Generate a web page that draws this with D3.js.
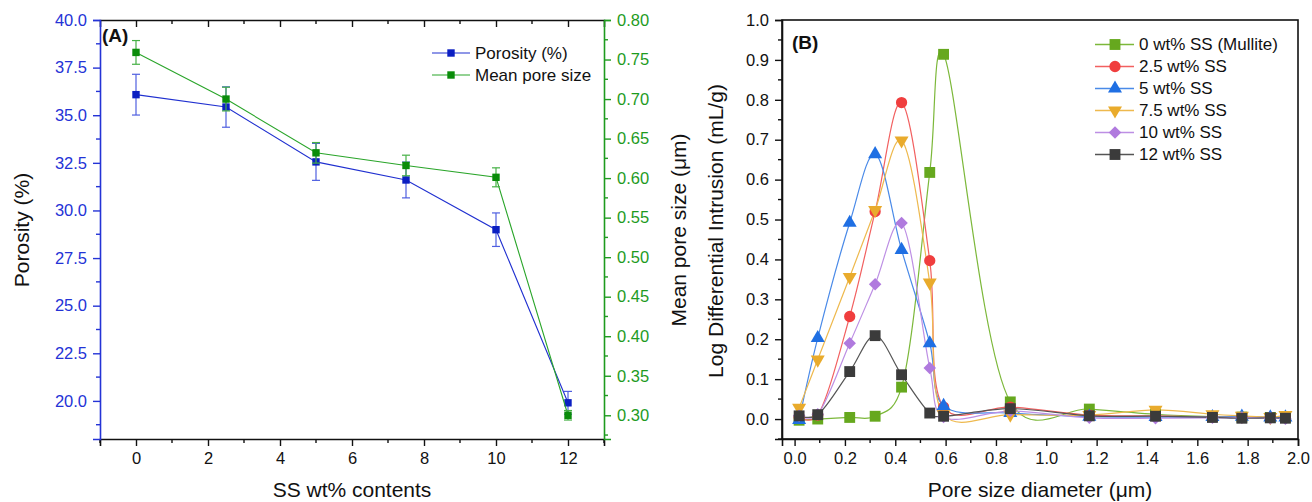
<!DOCTYPE html>
<html><head><meta charset="utf-8">
<script src="https://cdn.jsdelivr.net/npm/d3@7"></script>
<style>
body{margin:0;background:#fff;}
text{font-family:"Liberation Sans",Arial,sans-serif;}
</style></head>
<body><svg id="chart" width="1312" height="502"></svg>
<script>
// ---------- Panel A data ----------
const ssContent = [0, 2.5, 5, 7.5, 10, 12];
const porosity = [36.08, 35.43, 32.55, 31.6, 28.99, 19.9];
const porosityErr = [1.07, 1.06, 0.97, 0.94, 0.88, 0.6];
const meanPore = [0.759, 0.700, 0.632, 0.616, 0.601, 0.300];
const meanPoreErr = [0.015, 0.015, 0.013, 0.013, 0.012, 0.006];
const porosityTicks = [20, 22.5, 25, 27.5, 30, 32.5, 35, 37.5, 40];
const meanPoreTicks = [0.30, 0.35, 0.40, 0.45, 0.50, 0.55, 0.60, 0.65, 0.70, 0.75, 0.80];
const ssTicks = [0, 2, 4, 6, 8, 10, 12];

// ---------- Panel B data ----------
const poreDiameter = [0.018, 0.092, 0.219, 0.32, 0.425, 0.537, 0.592, 0.857, 1.171, 1.434, 1.66, 1.777, 1.89, 1.95];
const seriesNames = ["0 wt% SS (Mullite)", "2.5 wt% SS", "5 wt% SS", "7.5 wt% SS", "10 wt% SS", "12 wt% SS"];
const ss0 = [-0.003, 0.0, 0.004, 0.007, 0.08, 0.618, 0.914, 0.043, 0.025, 0.012, 0.006, 0.005, 0.004, 0.004];
const ss25 = [0.005, 0.01, 0.257, 0.52, 0.793, 0.397, 0.03, 0.03, 0.01, 0.008, 0.005, 0.005, 0.004, 0.004];
const ss5 = [-0.002, 0.203, 0.492, 0.664, 0.424, 0.19, 0.033, 0.015, 0.006, 0.005, 0.005, 0.006, 0.004, 0.004];
const ss75 = [0.028, 0.149, 0.356, 0.524, 0.698, 0.342, 0.012, 0.011, 0.01, 0.023, 0.012, 0.008, 0.005, 0.01];
const ss10 = [0.008, 0.012, 0.19, 0.338, 0.491, 0.128, 0.005, 0.02, 0.003, 0.002, 0.003, 0.003, 0.002, 0.001];
const ss12 = [0.008, 0.011, 0.119, 0.209, 0.111, 0.015, 0.007, 0.026, 0.008, 0.007, 0.004, 0.002, 0.003, 0.002];
const intrusionTicksY = [0.0, 0.1, 0.2, 0.3, 0.4, 0.5, 0.6, 0.7, 0.8, 0.9, 1.0];
const diameterTicks = [0.0, 0.2, 0.4, 0.6, 0.8, 1.0, 1.2, 1.4, 1.6, 1.8, 2.0];

const svg = d3.select("#chart");
svg.append("rect").attr("width",1312).attr("height",502).attr("fill","#fff");

const BLUE_AX = "#2433d6", GREEN_AX = "#1e9b1e";
const BLUE = "#0b1fc2", GREEN = "#0a8c0a";
const TICK_FS = "16.5px", TITLE_FS = "21px", LEG_FS = "17px";

function styleAxis(g, color, labelColor){
  g.select(".domain").attr("stroke", color).attr("stroke-width", 1.6);
  g.selectAll(".tick line").attr("stroke", color).attr("stroke-width", 1.4);
  g.selectAll(".tick text").attr("fill", labelColor).style("font-size", TICK_FS)
    .style("font-family", '"Liberation Sans",Arial,sans-serif');
}
function minorTicks(g, scale, vals, orient, len, color){
  vals.forEach(v=>{
    const p = scale(v);
    let l = g.append("line").attr("stroke", color).attr("stroke-width", 1.4);
    if(orient==="left") l.attr("x1",0).attr("x2",-len).attr("y1",p).attr("y2",p);
    if(orient==="right") l.attr("x1",0).attr("x2",len).attr("y1",p).attr("y2",p);
    if(orient==="bottom") l.attr("y1",0).attr("y2",len).attr("x1",p).attr("x2",p);
    if(orient==="top") l.attr("y1",0).attr("y2",-len).attr("x1",p).attr("x2",p);
  });
}

// ================= Panel A =================
const A = {l:100, r:604, t:20, b:439};
const xA = d3.scaleLinear().domain([-1, 13]).range([A.l, A.r]);
const yA = d3.scaleLinear().domain([18, 40]).range([A.b, A.t]);
const yA2 = d3.scaleLinear().domain([0.27, 0.80]).range([A.b, A.t]);

const gAx = svg.append("g").attr("transform",`translate(0,${A.b})`)
  .call(d3.axisBottom(xA).tickValues(ssTicks).tickFormat(d3.format("d")).tickSizeOuter(0).tickSize(7).tickPadding(6));
styleAxis(gAx, "#111", "#111");
minorTicks(gAx, xA, [-1,1,3,5,7,9,11,13], "bottom", 4, "#111");
const gAt = svg.append("g").attr("transform",`translate(0,${A.t})`)
  .call(d3.axisBottom(xA).tickValues(ssTicks).tickFormat("").tickSizeOuter(0).tickSize(7));
styleAxis(gAt, "#111", "#111");
minorTicks(gAt, xA, [1,3,5,7,9,11], "bottom", 4, "#111");
const gAl = svg.append("g").attr("transform",`translate(${A.l},0)`)
  .call(d3.axisLeft(yA).tickValues(porosityTicks).tickFormat(d3.format(".1f")).tickSizeOuter(0).tickSize(7).tickPadding(6));
styleAxis(gAl, BLUE_AX, BLUE_AX);
minorTicks(gAl, yA, [18.75,21.25,23.75,26.25,28.75,31.25,33.75,36.25,38.75], "left", 4, BLUE_AX);
const gAr = svg.append("g").attr("transform",`translate(${A.r},0)`)
  .call(d3.axisRight(yA2).tickValues(meanPoreTicks).tickFormat(d3.format(".2f")).tickSizeOuter(0).tickSize(7).tickPadding(6));
styleAxis(gAr, GREEN_AX, GREEN_AX);
minorTicks(gAr, yA2, d3.range(0,11).map(i=>0.275+i*0.05), "right", 4, GREEN_AX);

const porData = ssContent.map((x,i)=>({x, y:porosity[i], e:porosityErr[i]}));
const mpData = ssContent.map((x,i)=>({x, y:meanPore[i], e:meanPoreErr[i]}));
function drawSeriesA(data, ys, lineColor, errColor, markColor){
  const g = svg.append("g");
  g.append("path").datum(data).attr("fill","none").attr("stroke",lineColor).attr("stroke-width",1.1)
    .attr("d", d3.line().x(d=>xA(d.x)).y(d=>ys(d.y)));
  data.forEach(d=>{
    const x = xA(d.x), y1 = ys(d.y - d.e), y2 = ys(d.y + d.e);
    g.append("line").attr("x1",x).attr("x2",x).attr("y1",y1).attr("y2",y2).attr("stroke",errColor).attr("stroke-width",1.2);
    [y1,y2].forEach(yy=>g.append("line").attr("x1",x-4).attr("x2",x+4).attr("y1",yy).attr("y2",yy).attr("stroke",errColor).attr("stroke-width",1.2));
  });
  g.selectAll("rect.m").data(data).enter().append("rect")
    .attr("x",d=>xA(d.x)-3.7).attr("y",d=>ys(d.y)-3.7).attr("width",7.4).attr("height",7.4).attr("fill",markColor);
}
drawSeriesA(porData, yA, "#2030d0", "#4f5fe0", BLUE);
drawSeriesA(mpData, yA2, "#2aa52a", "#45b045", GREEN);

const legA = [{n:"Porosity (%)", c:"#2030d0", m:BLUE},{n:"Mean pore size", c:"#2aa52a", m:GREEN}];
legA.forEach((d,i)=>{
  const y = 53 + i*22;
  svg.append("line").attr("x1",432).attr("x2",470).attr("y1",y).attr("y2",y).attr("stroke",d.c).attr("stroke-width",1.2);
  svg.append("rect").attr("x",451-3.7).attr("y",y-3.7).attr("width",7.4).attr("height",7.4).attr("fill",d.m);
  svg.append("text").attr("x",475).attr("y",y).attr("dy","0.35em").style("font-size",LEG_FS).attr("fill","#111").text(d.n);
});
svg.append("text").attr("x",102).attr("y",35).attr("dy","0.35em").style("font-size","19px").style("font-weight","bold").attr("fill","#111").text("(A)");

svg.append("text").attr("transform","translate(22,230) rotate(-90)").attr("text-anchor","middle").attr("dy","0.35em")
  .style("font-size",TITLE_FS).attr("fill","#111").text("Porosity (%)");
svg.append("text").attr("x",352).attr("y",490).attr("text-anchor","middle").attr("dy","0.35em")
  .style("font-size",TITLE_FS).attr("fill","#111").text("SS wt% contents");
svg.append("text").attr("transform","translate(679,230) rotate(-90)").attr("text-anchor","middle").attr("dy","0.35em")
  .style("font-size",TITLE_FS).attr("fill","#111").text("Mean pore size (μm)");

// ================= Panel B =================
const B = {l:782, r:1298, t:20, b:439};
const xB = d3.scaleLinear().domain([-0.05, 2.0]).range([B.l, B.r]);
const yB = d3.scaleLinear().domain([-0.05, 1.0]).range([B.b, B.t]);

svg.append("rect").attr("x",B.l).attr("y",B.t).attr("width",B.r-B.l).attr("height",B.b-B.t)
  .attr("fill","none").attr("stroke","#111").attr("stroke-width",1.6);
const gBx = svg.append("g").attr("transform",`translate(0,${B.b})`)
  .call(d3.axisBottom(xB).tickValues(diameterTicks).tickFormat(d3.format(".1f")).tickSizeOuter(0).tickSize(7).tickPadding(6));
styleAxis(gBx, "#111", "#111");
minorTicks(gBx, xB, [0.1,0.3,0.5,0.7,0.9,1.1,1.3,1.5,1.7,1.9], "bottom", 4, "#111");
const gBy = svg.append("g").attr("transform",`translate(${B.l},0)`)
  .call(d3.axisLeft(yB).tickValues(intrusionTicksY).tickFormat(d3.format(".1f")).tickSizeOuter(0).tickSize(7).tickPadding(6));
styleAxis(gBy, "#111", "#111");
minorTicks(gBy, yB, d3.range(0,11).map(i=>-0.05+i*0.1), "left", 4, "#111");

const seriesVals = [ss0, ss25, ss5, ss75, ss10, ss12];
const seriesColors = ["#66a81e", "#f03e3e", "#1f6fe3", "#e9ab2c", "#b07ade", "#3b3b3b"];
const lineColors = ["#7cb83a", "#f26060", "#4a8ae8", "#eeb94e", "#bd8fe4", "#555555"];
const symTypes = ["square","circle","triangle","tdown","diamond","square"];
function symPath(t){
  if(t==="square") return {d:d3.symbol(d3.symbolSquare, 118)(), r:0};
  if(t==="circle") return {d:d3.symbol(d3.symbolCircle, 100)(), r:0};
  if(t==="triangle") return {d:d3.symbol(d3.symbolTriangle, 85)(), r:0};
  if(t==="tdown") return {d:d3.symbol(d3.symbolTriangle, 85)(), r:180};
  if(t==="diamond") return {d:d3.symbol(d3.symbolSquare, 78)(), r:45};
}
const gB = svg.append("g");
const lineB = d3.line().x(d=>xB(d.x)).y(d=>yB(d.y)).curve(d3.curveCatmullRom.alpha(0.2));
seriesVals.forEach((vals,si)=>{
  const data = poreDiameter.map((x,i)=>({x, y:vals[i]}));
  gB.append("path").datum(data).attr("fill","none").attr("stroke",lineColors[si]).attr("stroke-width",1.2).attr("d",lineB);
});
seriesVals.forEach((vals,si)=>{
  const data = poreDiameter.map((x,i)=>({x, y:vals[i]}));
  const s = symPath(symTypes[si]);
  gB.selectAll(null).data(data).enter().append("path")
    .attr("d", s.d).attr("fill", seriesColors[si])
    .attr("transform", d=>`translate(${xB(d.x)},${yB(d.y)}) rotate(${s.r})`);
});

seriesNames.forEach((n,i)=>{
  const y = 44.5 + i*22;
  svg.append("line").attr("x1",1095).attr("x2",1134).attr("y1",y).attr("y2",y).attr("stroke",lineColors[i]).attr("stroke-width",1.3);
  const s = symPath(symTypes[i]);
  svg.append("path").attr("d",s.d).attr("fill",seriesColors[i]).attr("transform",`translate(1115,${y}) rotate(${s.r})`);
  svg.append("text").attr("x",1139).attr("y",y).attr("dy","0.35em").style("font-size",LEG_FS).attr("fill","#111").text(n);
});
svg.append("text").attr("x",792).attr("y",42).attr("dy","0.35em").style("font-size","19px").style("font-weight","bold").attr("fill","#111").text("(B)");

svg.append("text").attr("transform","translate(716,231) rotate(-90)").attr("text-anchor","middle").attr("dy","0.35em")
  .style("font-size",TITLE_FS).attr("fill","#111").text("Log Differential Intrusion (mL/g)");
svg.append("text").attr("x",1040).attr("y",490).attr("text-anchor","middle").attr("dy","0.35em")
  .style("font-size",TITLE_FS).attr("fill","#111").text("Pore size diameter (μm)");
</script></body></html>
